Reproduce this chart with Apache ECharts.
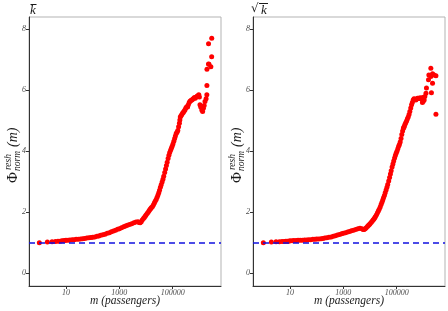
<!DOCTYPE html>
<html><head><meta charset="utf-8">
<script src="https://cdn.jsdelivr.net/npm/echarts@6/dist/echarts.min.js"></script>
<style>html,body{margin:0;padding:0;background:#fff}#c{width:448px;height:311px}</style>
</head><body><div id="c"></div>
<script>
// shared passenger counts (m)
const passengers = [1,2,3,4,5,6,7,8,9,10,12,14,17,20,24,29,35,42,50,60,72,86,100,120,145,170,200,240,290,350,420,500,600,720,860,1000,1200,1450,1700,2000,2400,2900,3500,4200,5000,5500,6000,6600,7200,8000,8600,9300,10000,11000,12000,13000,14000,15000,16000,17500,19000,20500,22000,24000,26000,28000,30000,32000,34500,37000,40000,43000,46000,50000,54000,58000,62000,67000,72000,77000,83000,89000,95000,102000,110000,118000,126000,135000,145000,155000,166000,178000,185000,192000,205000,220000,236000,252000,270000,290000,310000,335000,360000,385000,415000,445000,480000,520000,560000,600000,650000,700000,760000,820000,880000,950000];
// left panel: k-bar
const phiMeanK = [1.00,1.02,1.03,1.04,1.05,1.05,1.06,1.06,1.07,1.08,
 1.08,1.09,1.10,1.10,1.11,1.11,1.12,1.13,1.14,1.15,1.16,1.17,
 1.18,1.19,1.21,1.22,1.24,1.26,1.28,1.31,1.33,1.36,1.38,1.41,1.44,
 1.46,1.49,1.52,1.55,1.57,1.60,1.62,1.65,1.68,1.69,1.66,1.65,1.69,1.74,1.79,1.83,1.87,
 1.91,1.96,2.00,2.05,2.09,2.12,2.15,2.19,2.24,2.30,2.36,2.42,2.49,2.56,2.64,2.72,2.82,2.90,2.99,3.08,3.18,3.30,3.42,3.53,3.64,3.76,3.87,3.96,4.03,4.10,4.16,
 4.24,4.33,4.42,4.50,4.58,4.62,4.68,4.80,4.92,5.02,5.12,5.16,5.20,5.25,5.28,5.32,5.36,5.42,5.46,5.45,5.52,5.60,5.64,5.66,5.68,5.70,5.73,5.76,5.74,5.78,5.80,5.82,5.85];
const tailPassengersMeanK = [1000000,1050000,1120000,1230000,1320000,1410000,1510000,1620000,1780000,1900000,1910000,1920000,2190000,2200000,2290000,2690000,2880000,2900000];
const tailPhiMeanK = [5.78,5.52,5.45,5.35,5.30,5.41,5.50,5.63,5.72,5.85,6.15,6.69,6.86,7.52,6.85,6.77,7.10,7.70];
// right panel: sqrt(k)
const phiSqrtK = [1.00,1.02,1.03,1.03,1.04,1.04,1.05,1.05,1.05,1.06,
 1.06,1.07,1.07,1.08,1.08,1.08,1.09,1.09,1.10,1.10,1.11,1.11,
 1.12,1.12,1.13,1.14,1.15,1.16,1.18,1.19,1.21,1.23,1.25,1.27,1.29,
 1.31,1.33,1.35,1.37,1.39,1.41,1.43,1.46,1.47,1.46,1.43,1.43,1.46,1.49,1.53,1.56,1.59,
 1.62,1.66,1.70,1.74,1.78,1.82,1.86,1.92,1.98,2.04,2.10,2.17,2.25,2.33,2.40,2.47,2.55,2.64,2.73,2.82,2.91,3.02,3.14,3.25,3.36,3.48,3.58,3.68,3.78,3.86,3.93,
 4.00,4.08,4.16,4.22,4.30,4.42,4.55,4.66,4.75,4.78,4.82,4.88,4.94,5.00,5.06,5.12,5.20,5.30,5.42,5.52,5.60,5.68,5.72,5.70,5.68,5.71,5.74,5.74,5.73,5.75,5.72,5.70,5.76];
const tailPassengersSqrtK = [920000,990000,1070000,1130000,1250000,1300000,1550000,1600000,1900000,1900000,2000000,2200000,2200000,2500000,2950000,2950000];
const tailPhiSqrtK = [5.60,5.64,5.68,5.79,5.90,6.07,6.34,6.50,6.45,6.72,5.92,6.54,6.23,6.50,6.47,5.21];

const xTicks = [10, 1000, 100000];
const yTicks = [0, 2, 4, 6, 8];
const xTitle = 'm (passengers)';

const FONT = 'Liberation Serif';
function zip(xs, ys){ return xs.map((x,i)=>[x, ys[i]]); }
const dataL = zip(passengers, phiMeanK).concat(zip(tailPassengersMeanK, tailPhiMeanK));
const dataR = zip(passengers, phiSqrtK).concat(zip(tailPassengersSqrtK, tailPhiSqrtK));

const gridLefts = [29, 253];
function xAxis(i){ return {
  type:'log', logBase:10, gridIndex:i, min:0.41, max:6.45e6,
  axisLine:{show:true, onZero:false, lineStyle:{color:'#333', width:1}},
  axisTick:{show:true, length:3, customValues:xTicks, lineStyle:{color:'#333'}},
  axisLabel:{customValues:xTicks, formatter:v=>String(Math.round(v)), margin:3, fontFamily:FONT, fontStyle:'italic', fontSize:8, color:'#4d4d4d'},
  minorTick:{show:false}, splitLine:{show:false},
  name:xTitle, nameLocation:'middle', nameGap:9, nameMoveOverlap:false,
  nameTextStyle:{fontFamily:FONT, fontStyle:'italic', fontSize:11.5, color:'#1a1a1a', verticalAlign:'top'}
};}
function yAxis(i){ return {
  type:'value', gridIndex:i, min:-0.42, max:8.4,
  axisLine:{show:true, onZero:false, lineStyle:{color:'#333', width:1}},
  axisTick:{show:true, length:3, customValues:yTicks, lineStyle:{color:'#333'}},
  axisLabel:{customValues:yTicks, margin:3, fontFamily:FONT, fontStyle:'italic', fontSize:8, color:'#4d4d4d'},
  splitLine:{show:false}
};}
function series(i, data){ return {
  type:'scatter', xAxisIndex:i, yAxisIndex:i, data:data, symbol:'circle', symbolSize:5,
  itemStyle:{color:'#ff0000', opacity:1}, z:3,
  markLine:{silent:true, symbol:'none', label:{show:false},
    lineStyle:{color:'#1010e0', type:[6,4], width:1.6}, data:[{yAxis:1}], z:4}
};}
function yTitle(cx){ return {
  type:'group', x:cx, y:183, rotation:Math.PI/2, children:[
    {type:'text', x:0, y:0, style:{text:'\u03A6', fontFamily:FONT, fontSize:15, fill:'#1a1a1a', verticalAlign:'middle', align:'left'}},
    {type:'text', x:13, y:-5, style:{text:'resh', fontFamily:FONT, fontStyle:'italic', fontSize:9.5, fill:'#1a1a1a', verticalAlign:'middle', align:'left'}},
    {type:'text', x:12, y:4, style:{text:'norm', fontFamily:FONT, fontStyle:'italic', fontSize:9.5, fill:'#1a1a1a', verticalAlign:'middle', align:'left'}},
    {type:'text', x:36, y:0, style:{text:'(m)', fontFamily:FONT, fontStyle:'italic', fontSize:14, fill:'#1a1a1a', verticalAlign:'middle', align:'left'}}
  ]};}

const chart = echarts.init(document.getElementById('c'), null, {renderer:'canvas'});
chart.setOption({
  backgroundColor:'#fff', animation:false,
  grid:[
    {left:gridLefts[0], top:17, width:192, height:269, show:true, borderColor:'#b3b3b3', borderWidth:1, containLabel:false, outerBoundsMode:'none'},
    {left:gridLefts[1], top:17, width:192, height:269, show:true, borderColor:'#b3b3b3', borderWidth:1, containLabel:false, outerBoundsMode:'none'}
  ],
  xAxis:[xAxis(0), xAxis(1)],
  yAxis:[yAxis(0), yAxis(1)],
  series:[series(0, dataL), series(1, dataR)],
  graphic:[
    {type:'text', left:30, top:4, style:{text:'k', fontFamily:FONT, fontStyle:'italic', fontSize:13, fill:'#1a1a1a'}},
    {type:'line', shape:{x1:30.5, y1:4.5, x2:36.5, y2:4.5}, style:{stroke:'#1a1a1a', lineWidth:1}},
    {type:'text', left:251, top:3, style:{text:'\u221A', fontFamily:'DejaVu Serif', fontSize:12, fill:'#1a1a1a'}},
    {type:'line', shape:{x1:259, y1:3.5, x2:268, y2:3.5}, style:{stroke:'#1a1a1a', lineWidth:1}},
    {type:'text', left:261, top:4, style:{text:'k', fontFamily:FONT, fontStyle:'italic', fontSize:13, fill:'#1a1a1a'}},
    yTitle(13), yTitle(237)
  ]
});
</script></body></html>
